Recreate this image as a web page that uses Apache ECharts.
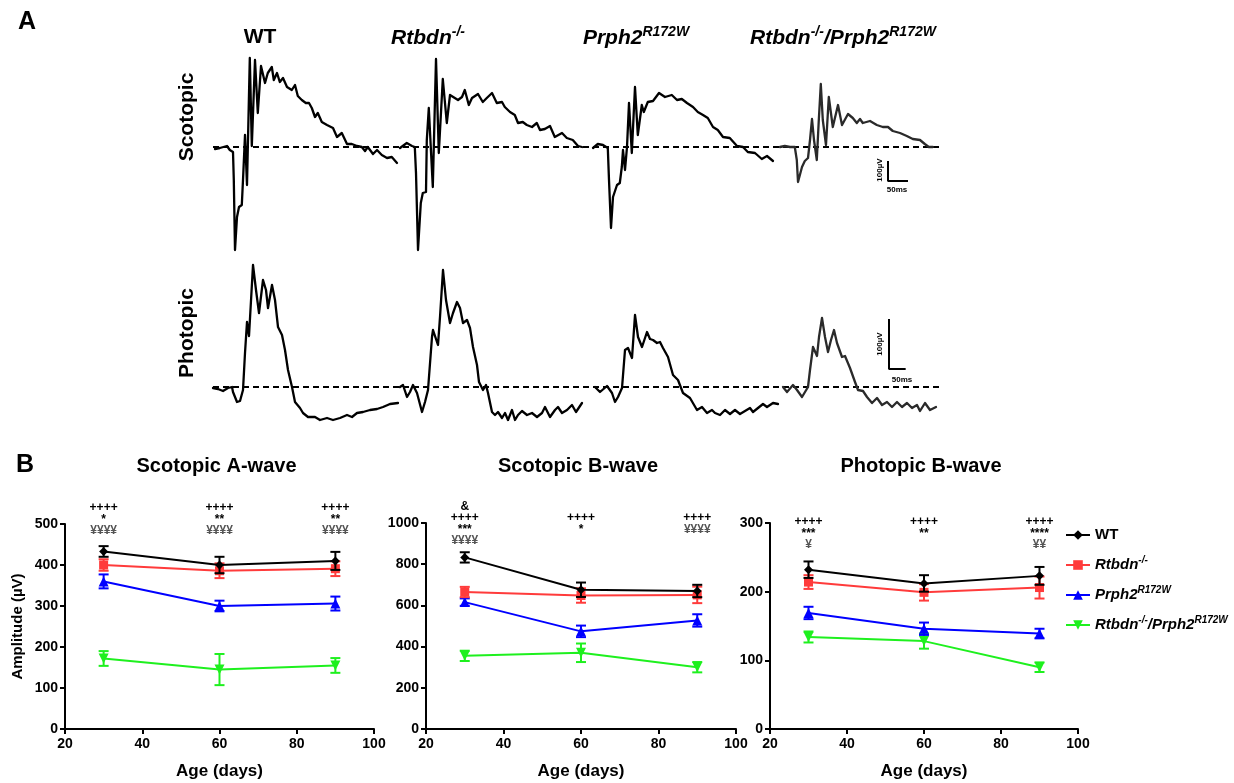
<!DOCTYPE html>
<html><head><meta charset="utf-8">
<script src="https://cdn.jsdelivr.net/npm/echarts@6/dist/echarts.min.js"></script>
<style>html,body{margin:0;padding:0;background:#fff}#c{width:1234px;height:783px}</style>
</head><body><div id="c"></div>
<script>
// ================= DATA =================
const ages = [30, 60, 90];
const xTickStep = 20;
const groupNames = ['WT', 'Rtbdn-/-', 'Prph2R172W', 'Rtbdn-/-/Prph2R172W'];

// Part B: means and error bars (µV), rows = groups in groupNames order, cols = ages
const scotA_mean = [[433, 400, 410], [400, 386, 391], [360, 300, 306], [172, 145, 155]];
const scotA_sem  = [[13, 20, 22], [14, 18, 18], [17, 13, 17], [18, 38, 18]];
const scotB_mean = [[833, 676, 670], [665, 648, 651], [616, 474, 527], [355, 370, 300]];
const scotB_sem  = [[25, 35, 30], [25, 35, 40], [18, 28, 30], [25, 45, 25]];
const photB_mean = [[232, 212, 223], [214, 199, 206], [169, 146, 139], [134, 128, 90]];
const photB_sem  = [[12, 12, 13], [10, 12, 16], [9, 9, 7], [8, 11, 7]];

const scotA_notes = [['++++', '*', '¥¥¥¥'], ['++++', '**', '¥¥¥¥'], ['++++', '**', '¥¥¥¥']];
const scotB_notes = [['&', '++++', '***', '¥¥¥¥'], ['++++', '*'], ['++++', '¥¥¥¥']];
const photB_notes = [['++++', '***', '¥'], ['++++', '**'], ['++++', '****', '¥¥']];

// Part A: ERG traces, [time ms from sweep start, amplitude µV]
const scotWT = [[0,-10],[12,-5],[30,5],[37,-15],[45,-25],[47,-165],[50,-515],[55,-350],[60,-300],[67,-290],[70,-165],[75,60],[80,-190],[87,445],[92,5],[100,435],[107,170],[115,405],[125,320],[132,370],[142,400],[147,335],[155,370],[162,325],[170,345],[180,300],[192,285],[200,310],[207,255],[217,235],[227,220],[235,220],[242,195],[250,150],[257,170],[267,125],[280,110],[295,95],[305,50],[317,70],[330,15],[342,15],[355,5],[367,0],[375,-20],[382,0],[395,-35],[405,-15],[417,-40],[430,-55],[442,-50],[455,-80]];
const scotRtbdn = [[0,-5],[17,20],[30,5],[37,0],[40,-130],[45,-515],[52,-280],[57,-230],[65,-225],[67,35],[72,195],[82,-200],[90,440],[97,-30],[107,340],[117,120],[125,260],[137,245],[145,235],[155,250],[162,285],[172,210],[180,245],[195,265],[207,225],[217,245],[230,270],[242,220],[255,225],[262,200],[275,175],[287,160],[295,120],[307,125],[317,110],[330,100],[342,120],[350,85],[362,90],[375,105],[387,50],[405,70],[417,45],[432,35],[445,5],[455,0]];
const scotPrph2 = [[0,-5],[12,15],[25,10],[37,-5],[40,-165],[45,-405],[50,-250],[60,-190],[67,-180],[72,-100],[75,-15],[80,-115],[85,0],[90,220],[97,-30],[105,300],[112,60],[122,210],[127,175],[137,225],[150,230],[165,270],[180,250],[197,260],[210,235],[222,240],[235,220],[250,200],[262,175],[275,160],[287,145],[300,100],[312,85],[325,50],[342,45],[360,5],[375,0],[387,-25],[405,-30],[422,-60],[435,-45],[450,-70]];
const scotDouble = [[0,0],[12,5],[25,0],[37,0],[42,-65],[45,-175],[55,-100],[62,-70],[70,-55],[75,35],[80,140],[85,35],[92,-65],[97,135],[102,315],[107,135],[115,10],[122,250],[132,100],[145,210],[155,110],[170,165],[182,145],[192,120],[200,140],[207,120],[225,130],[242,110],[257,100],[270,100],[282,80],[300,70],[317,55],[332,40],[350,35],[362,15],[372,0],[382,0]];
const photWT = [[0,-2],[15,-4],[30,-8],[45,-2],[57,0],[60,-10],[72,-30],[81,-28],[90,-6],[96,68],[102,130],[108,102],[117,208],[120,244],[129,194],[138,148],[150,214],[159,194],[165,158],[177,204],[186,174],[195,120],[207,104],[216,74],[225,34],[237,0],[246,-30],[261,-42],[270,-52],[285,-60],[306,-60],[321,-66],[342,-62],[360,-66],[381,-62],[402,-56],[417,-60],[432,-52],[450,-50],[471,-46],[492,-44],[510,-40],[531,-34],[555,-32]];
const photRtbdn = [[0,0],[9,4],[21,-20],[30,-10],[39,4],[51,-12],[66,-50],[75,-30],[84,-6],[96,100],[99,114],[114,84],[120,140],[129,234],[138,174],[150,128],[159,148],[171,170],[180,158],[189,128],[201,134],[210,118],[219,80],[231,44],[237,10],[249,-6],[258,4],[264,-12],[276,-50],[285,-56],[294,-50],[306,-62],[315,-52],[324,-66],[336,-46],[345,-66],[354,-56],[366,-48],[381,-56],[396,-52],[411,-60],[426,-52],[435,-40],[450,-60],[465,-46],[474,-40],[486,-52],[501,-46],[516,-36],[528,-50],[546,-32]];
const photPrph2 = [[0,0],[15,-10],[36,2],[51,-12],[60,-30],[69,-20],[81,-2],[90,74],[99,78],[111,58],[120,144],[129,100],[141,80],[156,110],[165,96],[174,94],[186,88],[195,90],[204,78],[219,60],[234,24],[249,14],[264,-12],[285,-22],[306,-46],[321,-40],[336,-52],[351,-46],[360,-52],[375,-56],[390,-46],[405,-54],[420,-46],[435,-54],[450,-48],[465,-42],[474,-50],[489,-42],[504,-34],[516,-40],[534,-32],[549,-34]];
const photDouble = [[0,0],[12,-10],[30,4],[42,-6],[57,-20],[75,0],[81,34],[90,80],[102,62],[108,100],[117,138],[126,100],[135,70],[144,94],[153,114],[162,88],[177,60],[186,62],[201,38],[216,10],[225,-6],[240,-8],[252,-20],[267,-32],[282,-22],[297,-36],[312,-30],[327,-40],[342,-30],[357,-40],[372,-32],[387,-42],[402,-36],[411,-48],[426,-32],[441,-46],[459,-40]];
const scaleBarUV = 100;   // µV
const scaleBarMS = 50;    // ms

// ================= LAYOUT / STYLE =================
const FONT = '"Liberation Sans", Arial, Helvetica, sans-serif';
const COLORS = ['#000000', '#ff3b3b', '#0000ff', '#1ef01e'];
const SYMBOLS = ['diamond', 'rect', 'triangle', 'triangle'];
const SYMROT = [0, 0, 0, 180];
const SYMSIZE = [9, 9, 10, 10];

const chart = echarts.init(document.getElementById('c'), null, {renderer: 'canvas'});

// Part A grids: one per row; hidden axes (ms horizontally, µV vertically)
const rowA = [
  {left: 213, top: 7, width: 727, height: 280, xmax: 727 * 2.5, ymin: -700, ymax: 700,
   traces: [scotWT, scotRtbdn, scotPrph2, scotDouble], offsets: [5, 467.5, 950, 1417.5],
   bar: [1687.5, -70]},
  {left: 213, top: 237, width: 727, height: 300, xmax: 727 * 3, ymin: -300, ymax: 300,
   traces: [photWT, photRtbdn, photPrph2, photDouble], offsets: [0, 561, 1146, 1710],
   bar: [2028, 136]}
];
const panels = [
  {left: 65, top: 524, width: 309, height: 205, ymax: 500, step: 100, mean: scotA_mean, sem: scotA_sem, notes: scotA_notes, plusY: 508, title: 'Scotopic A-wave'},
  {left: 426, top: 523, width: 310, height: 206, ymax: 1000, step: 200, mean: scotB_mean, sem: scotB_sem, notes: scotB_notes, plusY: 518, title: 'Scotopic B-wave'},
  {left: 770, top: 523, width: 308, height: 206, ymax: 300, step: 100, mean: photB_mean, sem: photB_sem, notes: photB_notes, plusY: 522, title: 'Photopic B-wave'}
];

const grid = [], xAxis = [], yAxis = [], series = [];
rowA.forEach((r, i) => {
  grid.push({left: r.left, top: r.top, width: r.width, height: r.height});
  xAxis.push({type: 'value', gridIndex: i, min: 0, max: r.xmax, show: false});
  yAxis.push({type: 'value', gridIndex: i, min: r.ymin, max: r.ymax, show: false});
  series.push({type: 'line', name: 'baseline' + i, xAxisIndex: i, yAxisIndex: i, symbol: 'none', silent: true,
    data: [[0, 0], [r.xmax, 0]], lineStyle: {color: '#000', width: 2, type: [6, 4]}});
  r.traces.forEach((tr, k) => {
    series.push({type: 'line', name: 'trace' + i + '_' + k, xAxisIndex: i, yAxisIndex: i, symbol: 'none', silent: true,
      smooth: false,
      data: tr.map(p => [p[0] + r.offsets[k], p[1]]),
      lineStyle: {color: k === 3 ? '#2a2a2a' : '#000', width: 2.3, join: 'round', cap: 'round'}});
  });
  const [bx, by] = r.bar;
  series.push({type: 'line', name: 'bar' + i, xAxisIndex: i, yAxisIndex: i, symbol: 'none', silent: true,
    data: [[bx, by], [bx, by - scaleBarUV], [bx + scaleBarMS, by - scaleBarUV]],
    lineStyle: {color: '#000', width: 2}});
});

const axisLbl = {color: '#000', fontWeight: 'bold', fontSize: 14, fontFamily: FONT, formatter: v => String(v)};
panels.forEach((p, j) => {
  const gi = j + 2;
  grid.push({left: p.left, top: p.top, width: p.width, height: p.height});
  xAxis.push({type: 'value', gridIndex: gi, min: 20, max: 100, interval: xTickStep,
    name: 'Age (days)', nameLocation: 'middle', nameGap: 34,
    nameTextStyle: {color: '#000', fontWeight: 'bold', fontSize: 17, fontFamily: FONT},
    axisLine: {lineStyle: {color: '#000', width: 2}},
    axisTick: {length: 5, lineStyle: {color: '#000', width: 2}},
    axisLabel: Object.assign({margin: 8}, axisLbl), splitLine: {show: false}});
  yAxis.push({type: 'value', gridIndex: gi, min: 0, max: p.ymax, interval: p.step,
    name: j === 0 ? 'Amplitude (µV)' : '', nameLocation: 'middle', nameGap: 40,
    nameTextStyle: {color: '#000', fontWeight: 'bold', fontSize: 15, fontFamily: FONT},
    axisLine: {show: true, lineStyle: {color: '#000', width: 2}},
    axisTick: {show: true, length: 5, lineStyle: {color: '#000', width: 2}},
    axisLabel: Object.assign({margin: 7}, axisLbl), splitLine: {show: false}});
});
// line series first (legend icon takes the first series of a name)
panels.forEach((p, j) => {
  const gi = j + 2;
  groupNames.forEach((g, k) => {
    series.push({type: 'line', name: g, xAxisIndex: gi, yAxisIndex: gi,
      data: ages.map((a, t) => [a, p.mean[k][t]]),
      symbol: SYMBOLS[k], symbolSize: SYMSIZE[k], symbolRotate: SYMROT[k], showAllSymbol: true,
      lineStyle: {color: COLORS[k], width: 2}, itemStyle: {color: COLORS[k]},
      z: 10 - k});
  });
});
panels.forEach((p, j) => {
  const gi = j + 2;
  groupNames.forEach((g, k) => {
    series.push({type: 'custom', name: g, xAxisIndex: gi, yAxisIndex: gi, silent: true,
      data: ages.map((a, t) => [a, p.mean[k][t] - p.sem[k][t], p.mean[k][t] + p.sem[k][t]]),
      renderItem: (params, api) => {
        const x = api.value(0);
        const lo = api.coord([x, api.value(1)]);
        const hi = api.coord([x, api.value(2)]);
        const w = 5, st = {stroke: COLORS[k], lineWidth: 2};
        return {type: 'group', children: [
          {type: 'line', shape: {x1: lo[0], y1: lo[1], x2: hi[0], y2: hi[1]}, style: st},
          {type: 'line', shape: {x1: lo[0] - w, y1: lo[1], x2: lo[0] + w, y2: lo[1]}, style: st},
          {type: 'line', shape: {x1: hi[0] - w, y1: hi[1], x2: hi[0] + w, y2: hi[1]}, style: st}
        ]};
      },
      z: 10 - k});
  });
});

const legendText = {
  'WT': '{b|WT}{s| }',
  'Rtbdn-/-': '{i|Rtbdn}{s|-/-}',
  'Prph2R172W': '{i|Prph2}{s|R172W}',
  'Rtbdn-/-/Prph2R172W': '{i|Rtbdn}{s|-/-}{i|/Prph2}{s|R172W}'
};
const supRich = {
  b: {fontWeight: 'bold', fontSize: 15, fontFamily: FONT, color: '#000'},
  i: {fontWeight: 'bold', fontStyle: 'italic', fontSize: 15, fontFamily: FONT, color: '#000'},
  s: {fontWeight: 'bold', fontStyle: 'italic', fontSize: 10, fontFamily: FONT, color: '#000', lineHeight: 12, padding: [0, 0, 10, 0]}
};

chart.setOption({
  animation: false,
  backgroundColor: '#fff',
  grid, xAxis, yAxis, series,
  legend: {
    data: groupNames, orient: 'vertical', left: 1060, top: 520,
    itemWidth: 24, itemHeight: 12, itemGap: 10,
    formatter: n => legendText[n],
    textStyle: {rich: supRich}
  }
});

// ================= TEXT (graphics) =================
const G = [];
function T(x, y, text, size, opts) {
  opts = opts || {};
  G.push({type: 'text', x, y, rotation: opts.rot || 0, silent: true, z: 100,
    style: Object.assign({text, fill: opts.color || '#000',
      font: (opts.italic ? 'italic ' : '') + 'bold ' + size + 'px ' + FONT,
      align: opts.align || 'center', verticalAlign: 'middle',
      textAlign: opts.align || 'center', textVerticalAlign: 'middle'}, opts.rich ? {rich: opts.rich} : {})});
}
const hdrRich = {
  b: {fontWeight: 'bold', fontSize: 21, fontFamily: FONT, fill: '#000'},
  i: {fontWeight: 'bold', fontStyle: 'italic', fontSize: 21, fontFamily: FONT, fill: '#000'},
  s: {fontWeight: 'bold', fontStyle: 'italic', fontSize: 14, fontFamily: FONT, fill: '#000', padding: [0, 0, 12, 0]}
};
T(27, 22, 'A', 25);
T(25, 465, 'B', 25);
T(260, 37, '{b|WT}', 21, {rich: hdrRich});
T(428, 38, '{i|Rtbdn}{s|-/-}', 21, {rich: hdrRich});
T(636, 38, '{i|Prph2}{s|R172W}', 21, {rich: hdrRich});
T(843, 38, '{i|Rtbdn}{s|-/-}{i|/Prph2}{s|R172W}', 21, {rich: hdrRich});
T(187, 117, 'Scotopic', 21, {rot: Math.PI / 2});
T(187, 333, 'Photopic', 21, {rot: Math.PI / 2});
T(880, 170, '100µV', 8, {rot: Math.PI / 2});
T(897, 190, '50ms', 8);
T(880, 344, '100µV', 8, {rot: Math.PI / 2});
T(902, 380, '50ms', 8);

panels.forEach((p, j) => {
  const gi = j + 2;
  T(p.left + p.width / 2 - 3, 466, p.title, 20);
  p.notes.forEach((lines, t) => {
    const cx = chart.convertToPixel({gridIndex: gi}, [ages[t], 0])[0];
    const idx = lines.indexOf('++++');
    lines.forEach((ln, q) => {
      const y = p.plusY + (q - idx) * 11.5;
      T(cx, y, ln, 12, {color: ln.indexOf('¥') >= 0 ? '#555' : '#000'});
    });
  });
});

chart.setOption({graphic: G});
</script></body></html>
